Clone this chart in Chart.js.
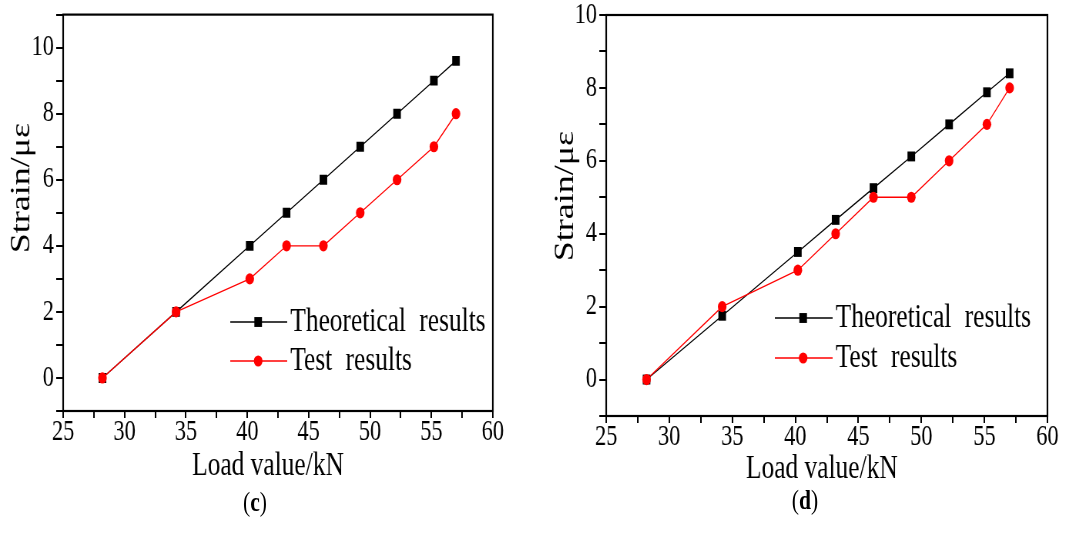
<!DOCTYPE html>
<html>
<head>
<meta charset="utf-8">
<script src="https://cdn.jsdelivr.net/npm/chart.js@4"></script>
<style>
    body { margin: 0; background: #fff; }
    #page { position: relative; width: 1081px; height: 534px; overflow: hidden; }
    canvas { position: absolute; top: 0; transform-origin: 0 0; transform: scaleX(0.77); }
    .caption {
        position: absolute; width: 100px; text-align: center;
        font: 27px "Liberation Serif", serif; color: #000;
        transform: scaleX(0.8);
    }
</style>
</head>
<body>
<div id="page">
    <canvas id="chartC" width="701" height="534" style="left:0px"></canvas>
    <canvas id="chartD" width="703" height="534" style="left:540px"></canvas>
    <div class="caption" style="left:205px; top:487px">(<b>c</b>)</div>
    <div class="caption" style="left:755px; top:485px">(<b>d</b>)</div>
</div>
<script>
// data
const loadValues = [28.2, 34.2, 40.2, 43.2, 46.2, 49.2, 52.2, 55.2, 57];
const theoreticalC = [0, 2, 4, 5, 6, 7, 8, 9, 9.6];
const testC = [0, 2, 3, 4, 4, 5, 6, 7, 8];
const theoreticalD = [0, 1.75, 3.5, 4.38, 5.25, 6.12, 7, 7.88, 8.4];
const testD = [0, 2, 3, 4, 5, 5, 6, 7, 8];
const seriesNames = ['Theoretical results', 'Test results'];
const xTickLabels = [25, 30, 35, 40, 45, 50, 55, 60];
const yTickLabels = [0, 2, 4, 6, 8, 10];
const xTitle = 'Load value/kN';
const yTitle = 'Strain/με';

const serif = '"Liberation Serif", "Times New Roman", serif';

// frame, axis titles and the legend inside the plot
const decor = {
    id: 'decor',
    afterDraw(chart, args, opts) {
        const ctx = chart.ctx;
        const a = chart.chartArea;
        ctx.save();
        ctx.strokeStyle = '#000';
        ctx.lineWidth = 2.2;
        ctx.strokeRect(a.left, a.top, a.right - a.left, a.bottom - a.top);

        ctx.fillStyle = '#000';
        ctx.textAlign = 'center';
        ctx.textBaseline = 'middle';
        ctx.font = '33px ' + serif;
        ctx.fillText(xTitle, opts.xTitle[0], opts.xTitle[1]);
        ctx.save();
        ctx.translate(opts.yTitle[0], opts.yTitle[1]);
        ctx.rotate(-Math.PI / 2);
        ctx.font = '36px ' + serif;
        ctx.fillText(yTitle, 0, 0);
        ctx.restore();

        // legend
        const lg = opts.legend;
        ctx.textAlign = 'left';
        ctx.font = '33px ' + serif;
        if ('wordSpacing' in ctx) ctx.wordSpacing = '9px';
        chart.data.datasets.forEach((ds, i) => {
            const y = lg.y + i * lg.gap;
            ctx.strokeStyle = ds.borderColor;
            ctx.lineWidth = 1.3;
            ctx.beginPath();
            ctx.moveTo(lg.x, y);
            ctx.lineTo(lg.x + lg.len, y);
            ctx.stroke();
            const mx = lg.x + lg.len * 0.49;
            ctx.fillStyle = ds.pointBackgroundColor;
            ctx.beginPath();
            if (ds.pointStyle === 'rect') {
                const h = ds.pointRadius * Math.SQRT1_2;
                ctx.rect(mx - h, y - h, 2 * h, 2 * h);
            } else {
                ctx.arc(mx, y, ds.pointRadius, 0, Math.PI * 2);
            }
            ctx.fill();
            ctx.fillStyle = '#000';
            ctx.fillText(ds.label, lg.x + lg.len + 4, y);
        });
        ctx.restore();
    }
};

function makeChart(id, theo, test, yMin, yMax, lay) {
    const ctx = document.getElementById(id).getContext('2d');
    return new Chart(ctx, {
        type: 'line',
        data: {
            datasets: [{
                label: seriesNames[0],
                data: loadValues.map((x, i) => ({ x: x, y: theo[i] })),
                borderColor: '#000',
                borderWidth: 1.3,
                pointStyle: 'rect',
                pointRadius: 7,
                pointBackgroundColor: '#000',
                pointBorderWidth: 0,
                order: 2,
            }, {
                label: seriesNames[1],
                data: loadValues.map((x, i) => ({ x: x, y: test[i] })),
                borderColor: '#ff0000',
                borderWidth: 1.3,
                pointStyle: 'circle',
                pointRadius: 5.6,
                pointBackgroundColor: '#ff0000',
                pointBorderWidth: 0,
                order: 1,
            }],
        },
        options: {
            responsive: false,
            animation: false,
            devicePixelRatio: 1,
            layout: { padding: { left: 0, top: lay.top, right: lay.right, bottom: lay.bottom } },
            plugins: {
                legend: { display: false },
                tooltip: { enabled: false },
                decor: { xTitle: lay.xTitle, yTitle: lay.yTitle, legend: lay.legend },
            },
            scales: {
                x: {
                    type: 'linear',
                    min: 25,
                    max: 60,
                    border: { display: false },
                    grid: { drawOnChartArea: false, tickLength: 7, color: '#000', lineWidth: 2 },
                    ticks: {
                        stepSize: 2.5,
                        autoSkip: false,
                        maxRotation: 0,
                        padding: 0,
                        color: '#000',
                        font: { family: serif, size: 29, lineHeight: 1 },
                        callback: v => xTickLabels.some(t => Math.abs(t - v) < 1e-6) ? String(v) : '',
                    },
                    afterFit: s => { s.height = lay.xHeight; },
                },
                y: {
                    min: yMin,
                    max: yMax,
                    border: { display: false },
                    grid: { drawOnChartArea: false, tickLength: 9, color: '#000', lineWidth: 2 },
                    ticks: {
                        stepSize: 1,
                        autoSkip: false,
                        padding: 3,
                        color: '#000',
                        font: { family: serif, size: 29, lineHeight: 0.8 },
                        callback: v => yTickLabels.some(t => Math.abs(t - v) < 1e-6) ? String(v) : '',
                    },
                    afterFit: s => { s.width = lay.yWidth; },
                },
            },
        },
        plugins: [decor],
    });
}

makeChart('chartC', theoreticalC, testC, -1, 11, {
    top: 11, right: 61, bottom: 48, xHeight: 75, yWidth: 82,
    xTitle: [348, 466], yTitle: [28.6, 188],
    legend: { x: 299, y: 322, len: 74, gap: 39 },
});
makeChart('chartD', theoreticalD, testD, -1, 10, {
    top: 15, right: 44, bottom: 45, xHeight: 73, yWidth: 86,
    xTitle: [366, 469], yTitle: [33.8, 196],
    legend: { x: 305, y: 318, len: 75, gap: 40 },
});
</script>
</body>
</html>
